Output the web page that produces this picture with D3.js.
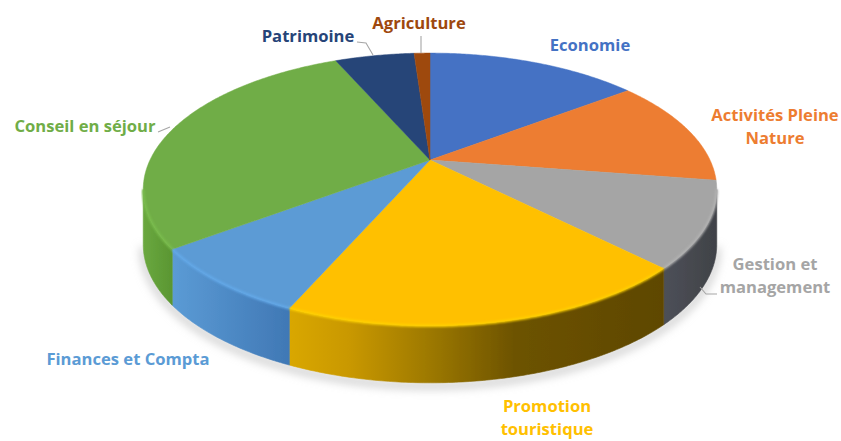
<!DOCTYPE html>
<html><head><meta charset="utf-8">
<script src="https://cdn.jsdelivr.net/npm/d3@7/dist/d3.min.js"></script>
<style>html,body{margin:0;padding:0;background:#fff}svg{display:block}</style>
</head><body><svg id="c" width="841" height="441"></svg>
<script>
const categories = ["Economie","Activités Pleine Nature","Gestion et management","Promotion touristique","Finances et Compta","Conseil en séjour","Patrimoine","Agriculture"];
const values = [14.7,12.7,10.1,19.1,8.2,28.6,5.5,1.1];
const colors = ["#4472c4","#ed7d31","#a5a5a5","#ffc000","#5b9bd5","#70ad47","#264478","#9e480e"];
const labelLines = [["Economie"],["Activités Pleine","Nature"],["Gestion et","management"],["Promotion","touristique"],["Finances et Compta"],["Conseil en séjour"],["Patrimoine"],["Agriculture"]];
const labelPos = [[590,45],[775,115],[775,264],[547,406],[128,359],[85,126],[308,36],[419,23]];
const leaders = [null,null,[[700,287],[706,294],[717,294]],null,null,[[158,132],[170,127]],[[357,42],[366,43],[373,55]],[[421,36],[421,53]]];
const wallStops = [
  [["#3a5c9c",0],["#3a5c9c",1]],
  [["#5a5a5a",0],["#444444",1]],
  [["#4d5058",0],["#404247",1]],
  [["#d9a700",0],["#c99800",.16],["#9c7800",.38],["#6d5300",.6],["#5e4700",1]],
  [["#5b9bd5",0],["#4078b5",1]],
  [["#6aa83f",0],["#5a9632",1]],
  [["#264478",0],["#264478",1]],
  [["#9e480e",0],["#9e480e",1]]
];

const svg = d3.select("#c");
const cx=430, cy=160, A=280, B=130, K=0.216;
const proj = t => {
  const u=Math.sin(t), v=-Math.cos(t), s=1/(1-K*v);
  return [cx+A*u*s, cy+B*v*s, v];
};
const depth = v => 52+5*(v+1)/2;
const wallFrom = (180-77.5)*Math.PI/180, wallTo = (180+77.5)*Math.PI/180;
const pie = d3.pie().sort(null).startAngle(0).endAngle(2*Math.PI);
const arcs = pie(values);
const line = d3.line();
const samples = (a,b) => { const n=Math.max(2,Math.ceil((b-a)/0.01)); return d3.range(n+1).map(i=>a+(b-a)*i/n); };

const defs = svg.append("defs");
defs.append("filter").attr("id","sh").attr("x","-20%").attr("y","-20%").attr("width","140%").attr("height","140%")
  .append("feGaussianBlur").attr("stdDeviation",5);
defs.append("filter").attr("id","bev").attr("x","-5%").attr("y","-5%").attr("width","110%").attr("height","110%")
  .append("feGaussianBlur").attr("stdDeviation",1.3);
defs.append("filter").attr("id","soft").append("feGaussianBlur").attr("stdDeviation",0.55);

const rim = samples(wallFrom,wallTo);
const bottom = rim.map(t=>{const p=proj(t);return [p[0],p[1]+depth(p[2])];});
svg.append("path").attr("d",line(bottom.map(p=>[p[0],p[1]+3]))).attr("fill","none").attr("stroke","#bbb").attr("stroke-width",5).attr("filter","url(#sh)");

const g = svg.append("g").attr("filter","url(#soft)");
arcs.forEach((d,i)=>{
  const a=Math.max(d.startAngle,wallFrom), b=Math.min(d.endAngle,wallTo);
  if(b<=a) return;
  const ts=samples(a,b);
  const top=ts.map(t=>proj(t));
  const pts=top.map(p=>[p[0],p[1]]).concat(top.slice().reverse().map(p=>[p[0],p[1]+depth(p[2])]));
  const xs=top.map(p=>p[0]);
  const id="w"+i;
  const gr=defs.append("linearGradient").attr("id",id).attr("gradientUnits","userSpaceOnUse")
    .attr("x1",d3.min(xs)).attr("x2",d3.max(xs)).attr("y1",0).attr("y2",0);
  wallStops[i].forEach(s=>gr.append("stop").attr("offset",s[1]).attr("stop-color",s[0]));
  g.append("path").attr("d",line(pts)+"Z").attr("fill",`url(#${id})`).attr("stroke",`url(#${id})`).attr("stroke-width",.6);
});
arcs.forEach((d,i)=>{
  const ts=samples(d.startAngle,d.endAngle);
  const pts=[[cx,cy]].concat(ts.map(t=>proj(t).slice(0,2)));
  g.append("path").attr("d",line(pts)+"Z").attr("fill",colors[i]).attr("stroke",colors[i]).attr("stroke-width",.5);
});
arcs.forEach((d,i)=>{
  const a=Math.max(d.startAngle,wallFrom), b=Math.min(d.endAngle,wallTo);
  if(b<=a) return;
  const c=d3.color(colors[i]);
  const pts=samples(a,b).map(t=>{const p=proj(t);return [p[0],p[1]];});
  svg.append("path").attr("d",line(pts)).attr("fill","none")
    .attr("stroke",c.brighter(.25)).attr("stroke-width",2.5).attr("filter","url(#bev)");
});

leaders.forEach(l=>{ if(l) svg.append("path").attr("d",line(l)).attr("fill","none").attr("stroke","#a6a6a6").attr("stroke-width",1.1); });

labelLines.forEach((ls,i)=>{
  ls.forEach((s,j)=>{
    svg.append("text").attr("x",labelPos[i][0]).attr("y",labelPos[i][1]+j*23.5).attr("dy","0.35em")
      .attr("text-anchor","middle").attr("font-family","'Open Sans',sans-serif").attr("font-weight",700)
      .attr("font-size",16.6).attr("fill",colors[i]).text(s);
  });
});
</script></body></html>
